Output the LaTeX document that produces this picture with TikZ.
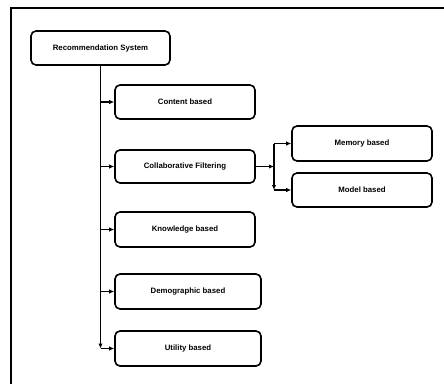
\documentclass[tikz,border=0pt]{standalone}
\usepackage{fontspec}
\setmainfont{Liberation Sans}
\usetikzlibrary{arrows.meta}
\begin{document}
\begin{tikzpicture}[x=1pt,y=-1pt,
  box/.style={draw,line width=1.6pt,rounded corners=5pt,minimum height=34pt,inner sep=0pt,font=\fontsize{7.8}{9}\selectfont\bfseries},
  arr/.style={line width=1.5pt,-{Latex[length=5pt,width=4.5pt]}},
  ln/.style={line width=1.5pt}]
\useasboundingbox (0,0) rectangle (444,383);
\draw[line width=1.8pt] (11,390) -- (11,8) -- (450,8);
\node[box,minimum width=139pt] (rec) at (100.5,48) {Recommendation System};
\node[box,minimum width=140pt] (content) at (185,102) {Content based};
\node[box,minimum width=140pt,minimum height=33pt] (collab) at (185,166.5) {Collaborative Filtering};
\node[box,minimum width=140pt,minimum height=35pt] (memory) at (362,143.5) {Memory based};
\node[box,minimum width=140pt] (model) at (362,190) {Model based};
\node[box,minimum width=140pt,minimum height=35pt] (know) at (185,229.5) {Knowledge based};
\node[box,minimum width=146pt,minimum height=35pt] (demo) at (188,291.5) {Demographic based};
\node[box,minimum width=146pt,minimum height=35pt] (util) at (188,348.5) {Utility based};
\coordinate (corner) at (rec.south |- util.west);
\draw[arr] (rec.south) -- (corner);
\draw[arr] (rec.south |- content.west) -- (content.west);
\draw[arr] (rec.south |- collab.west) -- (collab.west);
\draw[arr] (rec.south |- know.west) -- (know.west);
\draw[arr] (rec.south |- demo.west) -- (demo.west);
\draw[arr] (corner) -- (util.west);
\coordinate (split) at (274,166.5);
\coordinate (split1) at (split |- memory.west);
\coordinate (split2) at (split |- model.west);
\draw[arr] (collab.east) -- (split);
\draw[ln] (split) -- (split1);
\draw[arr] (split1) -- (memory.west);
\draw[arr] (split) -- (split2);
\draw[arr] (split2) -- (model.west);
\end{tikzpicture}
\end{document}
